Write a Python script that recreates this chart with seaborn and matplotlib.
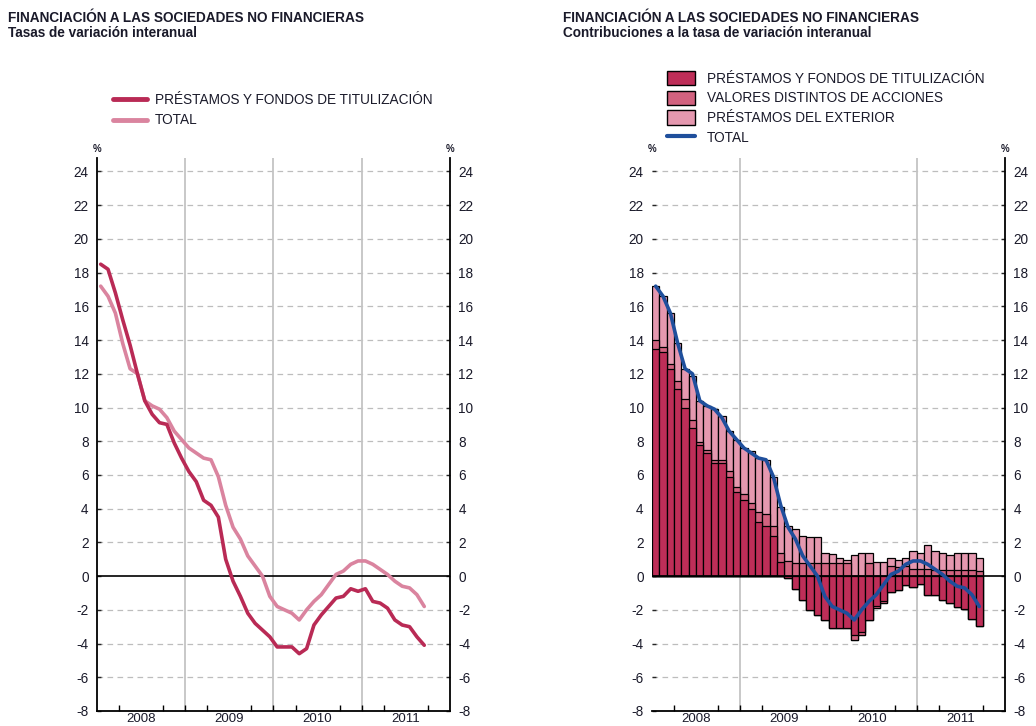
import numpy as np
import pandas as pd
import matplotlib
matplotlib.use("Agg")
import matplotlib.pyplot as plt
import seaborn as sns
from matplotlib.patches import Patch
from matplotlib.lines import Line2D

# ---------------- data (monthly, Jan 2008 - Sep 2011) ----------------
months = pd.date_range("2008-01-01", periods=45, freq="MS")
years = ["2008", "2009", "2010", "2011"]
yticks = list(range(-8, 25, 2))

prestamos_fondos = [18.5, 18.2, 16.8, 15.2, 13.7, 12.0, 10.4, 9.6, 9.1, 9.0,
                    7.9, 7.0, 6.2, 5.6, 4.5, 4.2, 3.5, 1.0, -0.3, -1.2,
                    -2.2, -2.8, -3.2, -3.6, -4.2, -4.2, -4.2, -4.6, -4.3, -2.9,
                    -2.3, -1.8, -1.3, -1.2, -0.75, -0.9, -0.75, -1.5, -1.6, -1.9,
                    -2.6, -2.9, -3.0, -3.6, -4.1]
total = [17.2, 16.6, 15.6, 13.8, 12.3, 12.0, 10.4, 10.1, 9.9, 9.4,
         8.6, 8.1, 7.6, 7.3, 7.0, 6.9, 5.9, 4.2, 2.9, 2.2,
         1.2, 0.6, 0.0, -1.2, -1.8, -2.0, -2.2, -2.6, -2.0, -1.5,
         -1.1, -0.5, 0.1, 0.3, 0.7, 0.9, 0.9, 0.7, 0.4, 0.1,
         -0.3, -0.6, -0.7, -1.1, -1.8]

contrib_prestamos = [13.5, 13.3, 12.3, 11.1, 10.0, 8.8, 7.8, 7.3, 6.7, 6.7,
                     5.9, 5.0, 4.5, 4.0, 3.2, 3.0, 2.4, 0.85, -0.1, -0.75,
                     -1.4, -2.0, -2.3, -2.6, -3.1, -3.1, -3.1, -3.5, -3.3, -2.6,
                     -1.75, -1.5, -0.93, -0.8, -0.5, -0.65, -0.45, -1.13, -1.13, -1.42,
                     -1.62, -1.85, -1.95, -2.55, -2.95]
contrib_valores = [0.5, 0.3, 0.3, 0.5, 0.5, 0.45, 0.15, 0.2, 0.2, 0.2,
                   0.35, 0.3, 0.4, 0.35, 0.6, 0.7, 0.6, 0.5, 0.9, 0.8,
                   0.8, 0.8, 0.8, 0.8, 0.8, 0.8, 0.75, -0.3, -0.2, 0.8,
                   -0.15, -0.1, 0.6, 0.55, 0.6, 0.45, 0.4, 0.4, 0.35, 0.35,
                   0.35, 0.35, 0.35, 0.35, 0.3]
contrib_exterior = [3.2, 3.0, 3.0, 2.2, 1.8, 2.6, 2.45, 2.6, 3.0, 2.6,
                    2.35, 2.8, 2.7, 3.05, 3.2, 3.2, 2.9, 2.75, 2.1, 2.0,
                    1.6, 1.5, 1.5, 0.6, 0.5, 0.3, 0.2, 1.25, 1.35, 0.55,
                    0.85, 0.85, 0.45, 0.4, 0.45, 1.05, 1.0, 1.45, 1.15, 1.0,
                    0.9, 1.0, 1.0, 1.0, 0.75]

legend_left = ["PRÉSTAMOS Y FONDOS DE TITULIZACIÓN", "TOTAL"]
legend_right = ["PRÉSTAMOS Y FONDOS DE TITULIZACIÓN", "VALORES DISTINTOS DE ACCIONES",
                "PRÉSTAMOS DEL EXTERIOR", "TOTAL"]

# ---------------- style ----------------
sns.set_theme(style="white")
plt.rcParams["font.family"] = ["Liberation Sans", "DejaVu Sans"]
plt.rcParams["lines.solid_capstyle"] = "round"

C_LINE_DARK = "#B92A55"
C_LINE_LIGHT = "#DA849F"
C_DARK = "#BE2E58"
C_MED = "#D2627F"
C_LIGHT = "#E598AF"
C_BLUE = "#1F4F9C"
TXT = "#1a1a2a"

W, H = 1036, 726
fig = plt.figure(figsize=(W / 100, H / 100), dpi=100)

def px_axes(x0, x1, y0, y1):
    return fig.add_axes([x0 / W, 1 - y1 / H, (x1 - x0) / W, (y1 - y0) / H])

axL = px_axes(97, 450, 158, 711)
axR = px_axes(652, 1005, 158, 711)

idx = np.arange(len(months))
n_slots = 48  # four full years on the axis


def style_axes(ax, vlines, left_spine=True):
    ax.set_xlim(-0.5, n_slots - 0.5)
    ax.set_ylim(-8, 24.8)
    ax.set_facecolor("white")
    for y in yticks:
        if y in (-8, 0):
            continue
        ax.axhline(y, color="#bdbdbd", lw=0.9, ls=(0, (4.5, 3.5)), zorder=0)
    for v in vlines:
        ax.axvline(v, color="#c4c4c4", lw=1.3, zorder=0)
    ax.axhline(0, color="black", lw=1.2, zorder=3)
    ax.set_yticks(yticks)
    ax.set_yticklabels([str(y) for y in yticks])
    ax.tick_params(axis="y", which="both", left=True, right=True, labelleft=True,
                   labelright=True, direction="in", length=3, width=1,
                   labelsize=9.8, labelcolor=TXT, pad=6)
    ax.set_xticks([5.5 + 12 * k for k in range(4)])
    ax.set_xticklabels(years)
    ax.set_xticks([-0.5 + 3 * k for k in range(1, 16)], minor=True)
    ax.tick_params(axis="x", which="major", length=0, labelsize=9.5,
                   labelcolor=TXT, pad=1.5)
    ax.tick_params(axis="x", which="minor", bottom=True, direction="in",
                   length=4, width=1, color="black")
    ax.spines["top"].set_visible(False)
    ax.spines["left"].set_visible(left_spine)
    for s in ["left", "right", "bottom"]:
        ax.spines[s].set_color("black")
        ax.spines[s].set_linewidth(1.3)
    ax.set_xlabel("")
    ax.set_ylabel("")
    ax.text(0, 1.008, "%", transform=ax.transAxes, ha="center", va="bottom",
            fontsize=7, color=TXT, fontweight="bold")
    ax.text(1, 1.008, "%", transform=ax.transAxes, ha="center", va="bottom",
            fontsize=7, color=TXT, fontweight="bold")


# ---------------- left chart ----------------
dfL = pd.DataFrame({"i": idx, "pft": prestamos_fondos, "total": total})
sns.lineplot(data=dfL, x="i", y="total", ax=axL, color=C_LINE_LIGHT, lw=2.6, zorder=4)
sns.lineplot(data=dfL, x="i", y="pft", ax=axL, color=C_LINE_DARK, lw=2.6, zorder=5)
style_axes(axL, [11.5, 23.5, 35.5])

hL = [Line2D([], [], color=C_LINE_DARK, lw=3.5), Line2D([], [], color=C_LINE_LIGHT, lw=3.5)]
fig.legend(hL, legend_left, loc="upper left", bbox_to_anchor=(113 / W, 1 - 93 / H),
           frameon=False, fontsize=9.8, handlelength=2.5, handletextpad=0.6,
           labelspacing=0.47, borderpad=0, borderaxespad=0, labelcolor=TXT)

# ---------------- right chart ----------------
comps = np.array([contrib_prestamos, contrib_valores, contrib_exterior])
colors = [C_DARK, C_MED, C_LIGHT]
pos = np.clip(comps, 0, None)
neg = np.clip(comps, None, 0)
for stack in (pos, neg):
    for k in reversed(range(3)):
        h = stack[: k + 1].sum(axis=0)
        sns.barplot(x=idx, y=h, ax=axR, color=colors[k], saturation=1, width=1.0,
                    edgecolor="black", linewidth=0.9, zorder=2)
sns.lineplot(x=idx, y=total, ax=axR, color=C_BLUE, lw=2.6, zorder=5)
style_axes(axR, [11.5, 35.5], left_spine=False)

hR = [Patch(facecolor=C_DARK, edgecolor="black", lw=1),
      Patch(facecolor=C_MED, edgecolor="black", lw=1),
      Patch(facecolor=C_LIGHT, edgecolor="black", lw=1),
      Line2D([], [], color=C_BLUE, lw=3)]
fig.legend(hR, legend_right, loc="upper left", bbox_to_anchor=(667 / W, 1 - 71 / H),
           frameon=False, fontsize=9.8, handlelength=2.06, handleheight=1.25,
           handletextpad=0.85, labelspacing=0.36, borderpad=0, borderaxespad=0,
           labelcolor=TXT)

# ---------------- titles ----------------
for x0, sub in [(8, "Tasas de variación interanual"),
                (563, "Contribuciones a la tasa de variación interanual")]:
    fig.text(x0 / W, 1 - 22 / H, "FINANCIACIÓN A LAS SOCIEDADES NO FINANCIERAS",
             fontsize=9.8, fontweight="bold", color=TXT, ha="left", va="baseline")
    fig.text(x0 / W, 1 - 37 / H, sub, fontsize=9.8, fontweight="bold",
             color=TXT, ha="left", va="baseline")

fig.savefig("out.png", dpi=100, facecolor="white")
